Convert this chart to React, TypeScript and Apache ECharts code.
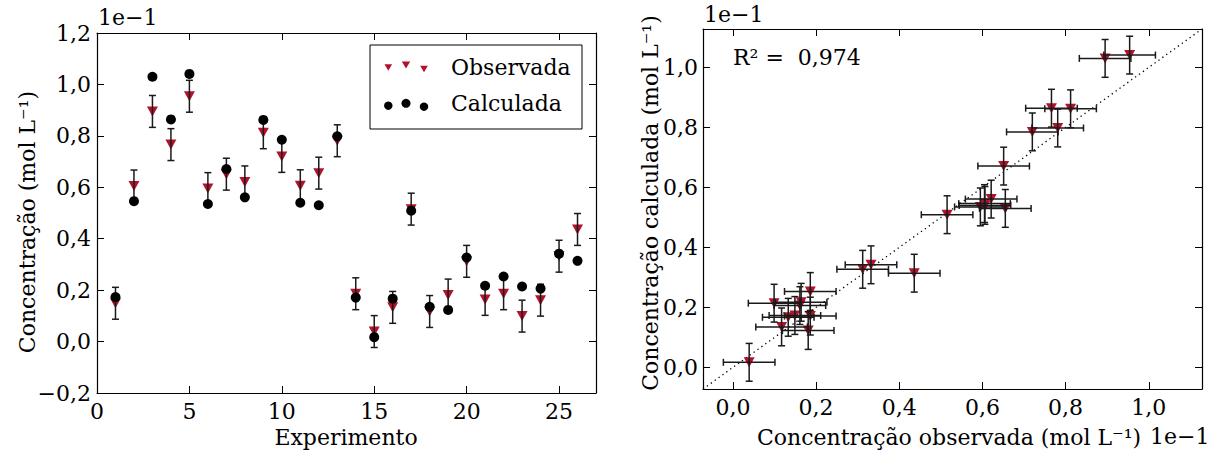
import React, { useEffect, useRef } from "react";
import * as echarts from "echarts";

const experiments = [1, 2, 3, 4, 5, 6, 7, 8, 9, 10, 11, 12, 13, 14, 15, 16, 17, 18, 19, 20, 21, 22, 23, 24, 25, 26];
const observed = [0.149, 0.605, 0.895, 0.766, 0.954, 0.595, 0.651, 0.621, 0.812, 0.72, 0.606, 0.655, 0.781, 0.186, 0.039, 0.133, 0.515, 0.117, 0.181, 0.312, 0.164, 0.186, 0.099, 0.161, 0.332, 0.436];
const calculated = [0.173, 0.546, 1.03, 0.864, 1.041, 0.535, 0.671, 0.561, 0.862, 0.785, 0.54, 0.53, 0.798, 0.171, 0.017, 0.167, 0.509, 0.135, 0.123, 0.327, 0.217, 0.253, 0.214, 0.206, 0.342, 0.314];
const errObserved = 0.062;
const errCalculated = 0.063;
const leftXTicks = [0, 5, 10, 15, 20, 25];
const rightTicks = [0, 0.2, 0.4, 0.6, 0.8, 1.0];
const r2Text = "R² =  0,974";

const FONT = "DejaVu Serif";
const FS = 22;
const RED = "#b0132b";
const BAR = "#1a1a1a";

const fmt = (v: number) => {
  const r = Math.round(v * 10) / 10;
  if (Math.abs(r) < 1e-9) return "0,0";
  return (r < 0 ? "−" : "") + Math.abs(r).toFixed(1).replace(".", ",");
};

const axisLineStyle = { show: true, onZero: false, lineStyle: { color: "#000", width: 1.2 } };
const tickStyle = { show: true, inside: true, length: 7, lineStyle: { color: "#000", width: 1 } };
const labelStyle = { color: "#000", fontFamily: FONT, fontSize: FS };

export default function App() {
  const ref = useRef<HTMLDivElement>(null);
  useEffect(() => {
    if (!ref.current) return;
    const chart = echarts.init(ref.current, null, { renderer: "svg" });
    const capW = 3.5;
    const vbar = (p1: number[], p2: number[]) => [
      { type: "line", shape: { x1: p1[0], y1: p1[1], x2: p2[0], y2: p2[1] }, style: { stroke: BAR, lineWidth: 1.5 } },
      { type: "line", shape: { x1: p1[0] - capW, y1: p1[1], x2: p1[0] + capW, y2: p1[1] }, style: { stroke: BAR, lineWidth: 1.5 } },
      { type: "line", shape: { x1: p2[0] - capW, y1: p2[1], x2: p2[0] + capW, y2: p2[1] }, style: { stroke: BAR, lineWidth: 1.5 } },
    ];
    const hbar = (p1: number[], p2: number[]) => [
      { type: "line", shape: { x1: p1[0], y1: p1[1], x2: p2[0], y2: p2[1] }, style: { stroke: BAR, lineWidth: 1.5 } },
      { type: "line", shape: { x1: p1[0], y1: p1[1] - capW, x2: p1[0], y2: p1[1] + capW }, style: { stroke: BAR, lineWidth: 1.5 } },
      { type: "line", shape: { x1: p2[0], y1: p2[1] - capW, x2: p2[0], y2: p2[1] + capW }, style: { stroke: BAR, lineWidth: 1.5 } },
    ];

    const rMin = -0.072;
    const rMax = 1.128;

    const legendTri = (cx: number, cy: number, s: number) => ({
      type: "polygon",
      shape: { points: [[cx - s, cy - s * 0.85], [cx + s, cy - s * 0.85], [cx, cy + s * 0.85]] },
      style: { fill: RED },
    });
    const txt = (x: number, y: number, text: string, align: string, extra: any = {}) => ({
      type: "text", x, y, ...extra,
      style: { text, font: `${FS}px '${FONT}'`, fill: "#000", textAlign: align, textVerticalAlign: "middle" },
    });

    chart.setOption({
      animation: false,
      grid: [
        { left: 97, top: 33, width: 499, height: 360 },
        { left: 703, top: 29, width: 499, height: 360 },
      ],
      xAxis: [
        { type: "value", gridIndex: 0, min: 0, max: 27, position: "bottom", axisLine: axisLineStyle, axisTick: { ...tickStyle, customValues: leftXTicks }, axisLabel: { ...labelStyle, margin: 7, customValues: leftXTicks }, splitLine: { show: false } },
        { type: "value", gridIndex: 0, min: 0, max: 27, position: "top", axisLine: axisLineStyle, axisTick: { ...tickStyle, customValues: leftXTicks }, axisLabel: { show: false }, splitLine: { show: false } },
        { type: "value", gridIndex: 1, min: rMin, max: rMax, position: "bottom", axisLine: axisLineStyle, axisTick: { ...tickStyle, customValues: rightTicks }, axisLabel: { ...labelStyle, margin: 7, customValues: rightTicks, formatter: fmt }, splitLine: { show: false } },
        { type: "value", gridIndex: 1, min: rMin, max: rMax, position: "top", axisLine: axisLineStyle, axisTick: { ...tickStyle, customValues: rightTicks }, axisLabel: { show: false }, splitLine: { show: false } },
      ],
      yAxis: [
        { type: "value", gridIndex: 0, min: -0.2, max: 1.2, interval: 0.2, position: "left", axisLine: axisLineStyle, axisTick: tickStyle, axisLabel: { ...labelStyle, margin: 6, formatter: fmt }, splitLine: { show: false } },
        { type: "value", gridIndex: 0, min: -0.2, max: 1.2, interval: 0.2, position: "right", axisLine: axisLineStyle, axisTick: tickStyle, axisLabel: { show: false }, splitLine: { show: false } },
        { type: "value", gridIndex: 1, min: rMin, max: rMax, position: "left", axisLine: axisLineStyle, axisTick: { ...tickStyle, customValues: rightTicks }, axisLabel: { ...labelStyle, margin: 5, customValues: rightTicks, formatter: fmt }, splitLine: { show: false } },
        { type: "value", gridIndex: 1, min: rMin, max: rMax, position: "right", axisLine: axisLineStyle, axisTick: { ...tickStyle, customValues: rightTicks }, axisLabel: { show: false }, splitLine: { show: false } },
      ],
      series: [
        {
          type: "scatter", xAxisIndex: 0, yAxisIndex: 0, symbol: "triangle", symbolRotate: 180, symbolSize: [11, 10],
          itemStyle: { color: RED, opacity: 1 }, data: experiments.map((x, i) => [x, observed[i]]), z: 2,
        },
        {
          type: "custom", xAxisIndex: 0, yAxisIndex: 0, z: 3,
          data: experiments.map((x, i) => [x, observed[i] - errObserved, observed[i] + errObserved]),
          renderItem: (params: any, api: any) => {
            const x = api.value(0);
            const p1 = api.coord([x, api.value(1)]);
            const p2 = api.coord([x, api.value(2)]);
            return { type: "group", children: vbar(p1, p2) };
          },
        },
        {
          type: "scatter", xAxisIndex: 0, yAxisIndex: 0, symbol: "circle", symbolSize: 10,
          itemStyle: { color: "#000", opacity: 1 }, data: experiments.map((x, i) => [x, calculated[i]]), z: 4,
        },
        {
          type: "line", xAxisIndex: 2, yAxisIndex: 2, symbol: "none", z: 1,
          lineStyle: { color: "#000", width: 1.3, type: [1.3, 3.5] },
          data: [[rMin, rMin], [rMax, rMax]],
        },
        {
          type: "scatter", xAxisIndex: 2, yAxisIndex: 2, symbol: "triangle", symbolRotate: 180, symbolSize: [11, 10],
          itemStyle: { color: RED, opacity: 1 }, data: observed.map((o, i) => [o, calculated[i]]), z: 2,
        },
        {
          type: "custom", xAxisIndex: 2, yAxisIndex: 2, z: 3,
          data: observed.map((o, i) => [o, calculated[i]]),
          renderItem: (params: any, api: any) => {
            const x = api.value(0);
            const y = api.value(1);
            const l = api.coord([x - errObserved, y]);
            const r = api.coord([x + errObserved, y]);
            const b = api.coord([x, y - errCalculated]);
            const t = api.coord([x, y + errCalculated]);
            return { type: "group", children: [...hbar(l, r), ...vbar(b, t)] };
          },
        },
      ],
      graphic: [
        { type: "rect", shape: { x: 370, y: 45, width: 212, height: 84 }, style: { fill: "#fff", stroke: "#000", lineWidth: 1 }, z: 10 },
        { ...legendTri(388.3, 67.5, 3.8), z: 11 },
        { ...legendTri(406, 65, 4.2), z: 11 },
        { ...legendTri(424, 69, 3.8), z: 11 },
        { type: "circle", shape: { cx: 388.3, cy: 105.7, r: 4.2 }, style: { fill: "#000" }, z: 11 },
        { type: "circle", shape: { cx: 406, cy: 103.3, r: 4.5 }, style: { fill: "#000" }, z: 11 },
        { type: "circle", shape: { cx: 424, cy: 106.7, r: 4.2 }, style: { fill: "#000" }, z: 11 },
        { ...txt(451, 67, "Observada", "left"), z: 11 },
        { ...txt(451, 103, "Calculada", "left"), z: 11 },
        txt(98, 17, "1e−1", "left"),
        txt(704, 14, "1e−1", "left"),
        txt(1150, 436, "1e−1", "left"),
        txt(346, 437, "Experimento", "center"),
        txt(949, 437, "Concentração observada (mol L⁻¹)", "center"),
        txt(27, 222, "Concentração (mol L⁻¹)", "center", { rotation: Math.PI / 2 }),
        txt(650, 203, "Concentração calculada (mol L⁻¹)", "center", { rotation: Math.PI / 2 }),
        txt(733, 57, r2Text, "left"),
      ],
    });
    return () => chart.dispose();
  }, []);
  return <div ref={ref} style={{ position: "fixed", left: 0, top: 0, width: 1209, height: 456, background: "#fff" }} />;
}
